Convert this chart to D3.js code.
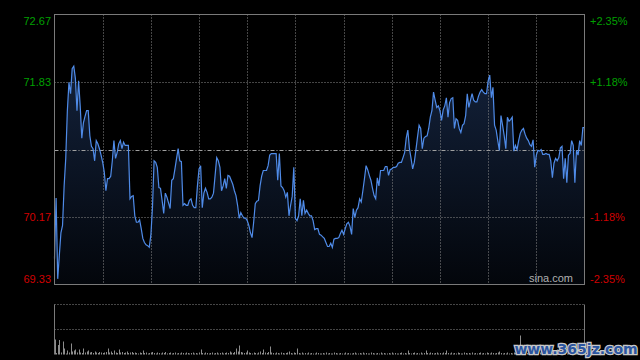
<!DOCTYPE html>
<html>
<head>
<meta charset="utf-8">
<script src="https://cdn.jsdelivr.net/npm/d3@7/dist/d3.min.js"></script>
<style>
  html, body { margin: 0; padding: 0; background: #000; }
  svg { display: block; }
</style>
</head>
<body>
<svg id="chart" width="640" height="360"></svg>
<script>
// intraday prices, one per minute (HK session, 330 minutes)
const prices = [
  69.65, 70.40, 69.40, 69.69, 69.97, 70.06, 70.55, 70.89, 71.48, 71.83,
  71.69, 72.00, 72.03, 71.88, 71.48, 71.85, 71.54, 71.14, 71.33, 71.41,
  71.48, 71.48, 71.17, 71.04, 71.01, 70.86, 71.11, 71.07, 71.01, 70.93,
  70.84, 70.72, 70.49, 70.64, 70.64, 70.67, 70.86, 71.11, 70.89, 70.96,
  71.07, 71.11, 71.01, 71.09, 71.05, 71.05, 71.05, 70.39, 70.42, 70.43,
  70.18, 70.10, 70.10, 70.13, 70.02, 69.90, 69.85, 69.82, 69.81, 69.79,
  69.94, 70.28, 70.86, 70.84, 70.78, 70.53, 70.52, 70.37, 70.21, 70.46,
  70.41, 70.34, 70.27, 70.62, 70.64, 70.76, 70.89, 71.01, 70.86, 70.85,
  70.31, 70.33, 70.31, 70.31, 70.37, 70.39, 70.31, 70.28, 70.28, 70.55,
  70.76, 70.80, 70.28, 70.46, 70.52, 70.47, 70.39, 70.39, 70.41, 70.46,
  70.68, 70.90, 70.86, 70.78, 70.49, 70.55, 70.64, 70.52, 70.68, 70.67,
  70.62, 70.57, 70.49, 70.43, 70.31, 70.15, 70.22, 70.18, 70.15, 70.15,
  70.12, 70.06, 69.97, 69.91, 70.10, 70.33, 70.36, 70.37, 70.55, 70.67,
  70.74, 70.74, 70.74, 70.80, 70.93, 70.95, 70.95, 70.95, 70.95, 70.62,
  70.95, 70.55, 70.53, 70.49, 70.41, 70.47, 70.18, 70.31, 70.42, 70.78,
  70.15, 70.12, 70.18, 70.39, 70.18, 70.37, 70.21, 70.25, 70.21, 70.18,
  70.18, 70.12, 70.01, 70.02, 70.02, 69.95, 69.94, 69.92, 69.90, 69.85,
  69.80, 69.80, 69.84, 69.79, 69.89, 69.90, 69.90, 69.91, 69.96, 70.00,
  69.95, 70.02, 70.08, 70.10, 70.05, 69.95, 70.27, 70.16, 70.25, 70.28,
  70.39, 70.35, 70.49, 70.64, 70.80, 70.75, 70.68, 70.62, 70.52, 70.43,
  70.39, 70.65, 70.55, 70.74, 70.74, 70.74, 70.79, 70.79, 70.68, 70.75,
  70.76, 70.78, 70.78, 70.79, 70.83, 70.84, 70.84, 70.90, 70.96, 71.14,
  71.24, 71.01, 70.89, 70.76, 70.84, 70.99, 71.15, 71.30, 71.26, 71.01,
  71.14, 71.16, 71.17, 71.26, 71.40, 71.48, 71.71, 71.61, 71.52, 71.54,
  71.48, 71.36, 71.49, 71.54, 71.64, 71.40, 71.58, 71.63, 71.64, 71.26,
  71.38, 71.36, 71.26, 71.21, 71.30, 71.32, 71.42, 71.69, 71.52, 71.61,
  71.69, 71.61, 71.59, 71.59, 71.66, 71.71, 71.74, 71.71, 71.69, 71.69,
  71.85, 71.92, 71.64, 71.77, 71.30, 71.24, 71.11, 70.99, 71.42, 71.30,
  71.17, 71.01, 71.40, 71.35, 71.37, 71.40, 70.98, 71.05, 71.00, 71.11,
  71.20, 71.24, 71.26, 71.19, 71.14, 71.11, 71.06, 71.04, 71.12, 70.78,
  70.93, 70.99, 70.98, 71.00, 70.94, 70.94, 70.95, 70.94, 70.94, 70.86,
  70.65, 70.83, 70.89, 70.86, 70.90, 71.02, 71.04, 70.64, 70.89, 70.59,
  70.93, 70.95, 71.11, 71.05, 70.59, 70.99, 70.93, 71.11, 71.05, 71.27,
  71.27
]

// volume per minute
const volumes = [
  300, 30, 190, 290, 40, 260, 120, 20, 80, 40, 220, 60, 80, 100, 40, 100, 40, 30, 120, 40,
  60, 80, 40, 50, 30, 60, 40, 30, 50, 40, 30, 40, 50, 120, 40, 60, 30, 80, 40, 30,
  100, 40, 50, 30, 40, 60, 30, 40, 50, 30, 40, 30, 20, 40, 30, 80, 30, 40, 20, 30,
  40, 50, 30, 20, 40, 30, 20, 40, 30, 50, 20, 30, 40, 20, 30, 40, 20, 30, 20, 40,
  30, 20, 40, 30, 20, 30, 40, 20, 30, 20, 40, 100, 30, 20, 40, 30, 20, 30, 40, 20,
  30, 40, 20, 30, 40, 20, 30, 40, 30, 60, 40, 30, 50, 120, 60, 180, 50, 40, 30, 40,
  80, 40, 30, 20, 40, 30, 20, 40, 60, 30, 100, 40, 30, 50, 160, 40, 30, 20, 40, 30,
  20, 40, 30, 20, 30, 40, 60, 30, 20, 40, 30, 120, 30, 20, 40, 20, 30, 20, 40, 20,
  30, 20, 20, 40, 30, 20, 20, 30, 20, 40, 20, 30, 20, 20, 40, 30, 20, 20, 30, 20,
  20, 40, 20, 30, 20, 20, 30, 40, 20, 20, 30, 20, 40, 20, 30, 20, 20, 40, 30, 20,
  20, 30, 20, 40, 20, 30, 20, 20, 30, 20, 40, 20, 30, 20, 20, 30, 40, 20, 30, 20,
  80, 30, 20, 30, 40, 20, 30, 20, 40, 20, 30, 80, 30, 20, 40, 30, 20, 30, 40, 20,
  30, 20, 40, 30, 80, 30, 20, 40, 20, 30, 20, 40, 30, 20, 20, 40, 30, 20, 30, 20,
  40, 20, 30, 20, 30, 40, 20, 30, 20, 40, 30, 20, 40, 30, 20, 30, 40, 60, 30, 20,
  30, 20, 40, 20, 30, 20, 40, 30, 20, 30, 380, 30, 20, 40, 30, 20, 30, 20, 40, 30,
  20, 30, 40, 20, 30, 20, 40, 20, 30, 20, 30, 40, 20, 30, 20, 40, 30, 20, 30, 20,
  40, 20, 30, 20, 40, 30, 20, 30, 40, 20, 60
]

const prevClose = 71.00
const priceTicks = [72.67, 71.83, 70.17, 69.33]
const pctLabels = ['+2.35%', '+1.18%', '-1.18%', '-2.35%']
const gridMinutes = [30, 60, 90, 120, 150, 180, 210, 240, 270, 300]
const volMax = 1000

const svg = d3.select('#chart')

// scales
let x = d3.scaleLinear().domain([0, 330]).range([54.5, 584.5])
let y = d3.scaleLinear().domain([69.33, 72.67]).range([284.5, 14.5])
let yv = d3.scaleLinear().domain([0, volMax]).range([354.5, 304.5])

// gradient for area
let defs = svg.append('defs')
let grad = defs.append('linearGradient')
  .attr('id', 'areaGrad')
  .attr('x1', 0).attr('y1', 0).attr('x2', 0).attr('y2', 1)
grad.append('stop').attr('offset', '0%').attr('stop-color', '#13213a')
grad.append('stop').attr('offset', '100%').attr('stop-color', '#03060b')

// area under the line
svg.append('path')
  .datum(prices)
  .attr('fill', 'url(#areaGrad)')
  .attr('d', d3.area()
    .x((d, i) => x(i))
    .y0(y(69.33))
    .y1((d) => y(d)))

// grid - horizontal
svg.append('g')
  .selectAll('line')
  .data(priceTicks.slice(1, 3))
  .enter()
  .append('line')
  .attr('x1', x(0)).attr('x2', x(330))
  .attr('y1', (d) => Math.round(y(d)) + 0.5)
  .attr('y2', (d) => Math.round(y(d)) + 0.5)
  .attr('stroke', '#8a8a8a')
  .style('stroke-dasharray', '1,2')

// prev close line
svg.append('line')
  .attr('x1', x(0)).attr('x2', x(330))
  .attr('y1', Math.round(y(prevClose)) + 0.5)
  .attr('y2', Math.round(y(prevClose)) + 0.5)
  .attr('stroke', '#a0a0a0')
  .style('stroke-dasharray', '4,2,1,2')

// grid - vertical
svg.append('g')
  .selectAll('line')
  .data(gridMinutes)
  .enter()
  .append('line')
  .attr('x1', (d) => Math.round(x(d)) + 0.5)
  .attr('x2', (d) => Math.round(x(d)) + 0.5)
  .attr('y1', y(72.67)).attr('y2', y(69.33))
  .attr('stroke', '#8a8a8a')
  .style('stroke-dasharray', '1,2')

// price line
svg.append('path')
  .datum(prices)
  .attr('fill', 'none')
  .attr('stroke', '#4f8be8')
  .attr('stroke-width', 1.2)
  .attr('d', d3.line()
    .x((d, i) => x(i))
    .y((d) => y(d)))

// frame
svg.append('rect')
  .attr('x', x(0)).attr('y', y(72.67))
  .attr('width', x(330) - x(0))
  .attr('height', y(69.33) - y(72.67))
  .attr('fill', 'none')
  .attr('stroke', '#7a7a7a')

// left labels
svg.append('g')
  .selectAll('text')
  .data(priceTicks)
  .enter()
  .append('text')
  .attr('x', 51)
  .attr('y', (d, i) => y(d) + (i == 0 ? 10 : i == 3 ? -2 : 4))
  .attr('text-anchor', 'end')
  .attr('font-family', 'Liberation Sans, Arial, sans-serif')
  .attr('font-size', 11)
  .attr('fill', (d) => (d > prevClose ? '#00a000' : '#d00000'))
  .text((d) => d.toFixed(2))

// right labels
svg.append('g')
  .selectAll('text')
  .data(priceTicks)
  .enter()
  .append('text')
  .attr('x', 590)
  .attr('y', (d, i) => y(d) + (i == 0 ? 10 : i == 3 ? -2 : 4))
  .attr('font-family', 'Liberation Sans, Arial, sans-serif')
  .attr('font-size', 11)
  .attr('fill', (d) => (d > prevClose ? '#00a000' : '#d00000'))
  .text((d, i) => pctLabels[i])

// sina watermark
svg.append('text')
  .attr('x', 573).attr('y', 282)
  .attr('text-anchor', 'end')
  .attr('font-family', 'Liberation Sans, Arial, sans-serif')
  .attr('font-size', 11)
  .attr('fill', '#b0b0b0')
  .text('sina.com')

// volume panel grid
svg.append('g')
  .selectAll('line')
  .data([volMax, volMax / 2])
  .enter()
  .append('line')
  .attr('x1', x(0)).attr('x2', x(330))
  .attr('y1', (d) => yv(d)).attr('y2', (d) => yv(d))
  .attr('stroke', '#8a8a8a')
  .style('stroke-dasharray', '1,2')

svg.append('line')
  .attr('x1', x(0)).attr('x2', x(0))
  .attr('y1', yv(volMax)).attr('y2', yv(0))
  .attr('stroke', '#7a7a7a')
svg.append('line')
  .attr('x1', x(330)).attr('x2', x(330))
  .attr('y1', yv(volMax)).attr('y2', yv(0))
  .attr('stroke', '#7a7a7a')

// volume bars
svg.append('g')
  .selectAll('rect')
  .data(volumes)
  .enter()
  .append('rect')
  .attr('x', (d, i) => Math.round(x(i)))
  .attr('width', 1)
  .attr('y', (d) => yv(d))
  .attr('height', (d) => yv(0) - yv(d))
  .attr('fill', '#8c8c8c')

// site watermark
svg.append('text')
  .attr('x', 576).attr('y', 354)
  .attr('text-anchor', 'middle')
  .attr('font-family', 'DejaVu Sans, sans-serif')
  .attr('font-weight', 'bold')
  .attr('font-size', 14)
  .attr('fill', '#2b55a0')
  .attr('stroke', '#c8c8c8')
  .attr('stroke-width', 2.5)
  .attr('paint-order', 'stroke')
  .text('www.365jz.com')
</script>
</body>
</html>
